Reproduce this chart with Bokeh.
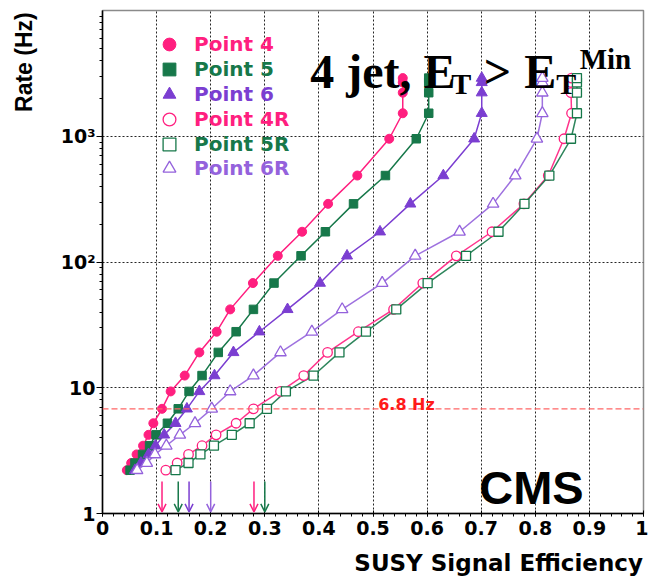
import math
from bokeh.plotting import figure
from bokeh.models import (Label, Span, Arrow, OpenHead, Legend, LegendItem,
                          FixedTicker)
from bokeh.embed import file_html
from bokeh.resources import INLINE

# ---------------- data ----------------
rate = [2.21, 2.52, 2.95, 3.46, 4.22, 5.22, 6.8, 9.35, 12.5, 19.1, 27.9,
        42, 68, 112, 174, 290, 487, 955, 1524, 2220, 2680, 2900]

eff_p4 = [0.045, 0.053, 0.063, 0.075, 0.085, 0.094, 0.110, 0.126, 0.152, 0.179, 0.211,
          0.236, 0.278, 0.324, 0.369, 0.417, 0.471, 0.530, 0.555, 0.555, 0.555, 0.555]
eff_p5 = [0.051, 0.060, 0.074, 0.087, 0.099, 0.120, 0.140, 0.160, 0.184, 0.214, 0.247,
          0.279, 0.317, 0.367, 0.412, 0.464, 0.523, 0.580, 0.603, 0.603, 0.603, 0.603]
eff_p6 = [0.060, 0.071, 0.085, 0.098, 0.114, 0.135, 0.156, 0.179, 0.207, 0.242, 0.290,
          0.342, 0.402, 0.452, 0.513, 0.569, 0.630, 0.687, 0.701, 0.701, 0.701, 0.701]
eff_p4r = [0.117, 0.138, 0.159, 0.184, 0.210, 0.247, 0.279, 0.329, 0.372, 0.416, 0.473,
           0.538, 0.592, 0.654, 0.720, 0.779, 0.824, 0.853, 0.867, 0.866, 0.866, 0.867]
eff_p5r = [0.135, 0.159, 0.181, 0.206, 0.239, 0.272, 0.304, 0.339, 0.390, 0.438, 0.487,
           0.543, 0.601, 0.672, 0.732, 0.780, 0.826, 0.866, 0.877, 0.877, 0.877, 0.877]
eff_p6r = [0.064, 0.082, 0.097, 0.118, 0.143, 0.171, 0.202, 0.236, 0.279, 0.329, 0.387,
           0.443, 0.517, 0.578, 0.660, 0.722, 0.763, 0.803, 0.813, 0.813, 0.813, 0.813]

series_names = ["Point 4", "Point 5", "Point 6", "Point 4R", "Point 5R", "Point 6R"]

# efficiencies at the 6.8 Hz working point (arrows)
arrow_eff = [0.11, 0.14, 0.16, 0.20, 0.28, 0.30]
arrow_series = ["Point 4", "Point 5", "Point 6", "Point 6R", "Point 4R", "Point 5R"]

rate_limit = 6.8
rate_limit_label = "6.8 Hz"

x_ticks = [0, 0.1, 0.2, 0.3, 0.4, 0.5, 0.6, 0.7, 0.8, 0.9, 1.0]
x_tick_labels = ["0", "0.1", "0.2", "0.3", "0.4", "0.5", "0.6", "0.7", "0.8", "0.9", "1"]
y_ticks = [1, 10, 100, 1000]
y_tick_labels = ["1", "10", "10²", "10³"]

x_title = "SUSY Signal Efficiency"
y_title = "Rate (Hz)"

# ---------------- styles ----------------
PINK = "#FF1F7F"
GREEN = "#17784A"
PURPLE = "#7B3ED1"
PURPLE_L = "#9462DC"
styles = {
    "Point 4":  dict(color=PINK,   marker="circle",   filled=True,  size=9),
    "Point 5":  dict(color=GREEN,  marker="square",   filled=True,  size=8.5),
    "Point 6":  dict(color=PURPLE, marker="triangle", filled=True,  size=11),
    "Point 4R": dict(color=PINK,   marker="circle",   filled=False, size=9.5),
    "Point 5R": dict(color=GREEN,  marker="square",   filled=False, size=9),
    "Point 6R": dict(color=PURPLE_L, marker="triangle", filled=False, size=11.5),
}
effs = dict(zip(series_names, [eff_p4, eff_p5, eff_p6, eff_p4r, eff_p5r, eff_p6r]))

SANS = "DejaVu Sans"

p = figure(width=648, height=577, x_range=(0, 1), y_range=(1, 10000),
           y_axis_type="log", output_backend="svg", toolbar_location=None,
           min_border_left=102, min_border_right=5, min_border_top=10,
           min_border_bottom=64)
p.background_fill_color = "white"
p.border_fill_color = "white"
p.outline_line_color = "#8a8a8a"
p.outline_line_width = 1.5

# axes
xa = p.xaxis[0]
xa.ticker = FixedTicker(ticks=x_ticks, minor_ticks=[i * 0.02 for i in range(51)])
xa.major_label_overrides = dict(zip(x_ticks, x_tick_labels))
ya = p.yaxis[0]
ya.ticker = FixedTicker(ticks=y_ticks,
                        minor_ticks=[m * 10 ** d for d in range(4) for m in range(2, 10)])
ya.major_label_overrides = dict(zip(y_ticks, y_tick_labels))
for ax in (xa, ya):
    ax.axis_line_color = "black"
    ax.axis_line_width = 1.5
    ax.major_tick_line_color = "black"
    ax.minor_tick_line_color = "black"
    ax.major_label_text_font = SANS
    ax.major_label_text_font_style = "bold"
    ax.major_label_text_font_size = "19px"
    ax.major_label_text_color = "black"
xa.major_tick_in = 3
xa.major_tick_out = 3
xa.minor_tick_in = 0
xa.minor_tick_out = 3
xa.major_label_standoff = 4
ya.major_tick_in = 0
ya.major_tick_out = 6
ya.minor_tick_in = 0
ya.minor_tick_out = 3
ya.major_label_standoff = 1

# axis titles as labels placed in the side panels (not clipped there)
p.add_layout(Label(x=0.999, y=0.4013, text=x_title, text_font=SANS,
                   text_font_style="bold", text_font_size="23px", text_color="black",
                   text_align="right", text_baseline="middle"), "below")
p.add_layout(Label(x=-0.1447, y=1560, text=y_title, text_font="Liberation Sans",
                   text_font_style="bold", text_font_size="23px", text_color="black",
                   text_align="left", text_baseline="middle",
                   angle=math.pi / 2), "left")

for g in (p.xgrid[0], p.ygrid[0]):
    g.grid_line_color = "black"
    g.grid_line_dash = "2 2"
    g.grid_line_alpha = 0.85
    g.grid_line_width = 1

# 6.8 Hz line
p.add_layout(Span(location=rate_limit, dimension="width", line_color="#FF6666",
                  line_dash="6 3", line_width=1.3))
p.add_layout(Label(x=0.5096, y=7.37, text=rate_limit_label, text_font=SANS,
                   text_font_style="bold", text_font_size="16px",
                   text_color="#FF1A1A", text_baseline="alphabetic"))

# lines
for name in series_names:
    st = styles[name]
    p.line(effs[name], rate, line_color=st["color"], line_width=1.5,
           line_alpha=1.0 if st["filled"] else 0.9)

# markers
marker_renderers = {}
for name in series_names:
    st = styles[name]
    if st["filled"]:
        r = p.scatter(effs[name], rate, marker=st["marker"], size=st["size"],
                      fill_color=st["color"], line_color=st["color"], line_width=1)
    else:
        r = p.scatter(effs[name], rate, marker=st["marker"], size=st["size"],
                      fill_color="white", fill_alpha=1.0, line_color=st["color"],
                      line_width=1.3)
    marker_renderers[name] = r

# arrows at the 6.8 Hz efficiencies
for xv, name in zip(arrow_eff, arrow_series):
    c = styles[name]["color"]
    p.add_layout(Arrow(end=OpenHead(size=8, line_color=c, line_width=1.5),
                       x_start=xv, y_start=1.8, x_end=xv, y_end=1.03,
                       line_color=c, line_width=1.5))

# legends, one per entry so each label gets its own colour
for i, name in enumerate(series_names):
    st = styles[name]
    yc = 44.3 + 24.8 * i
    lg = Legend(items=[LegendItem(label=name, renderers=[marker_renderers[name]])],
                location=(51, 513 - yc - 16), orientation="vertical",
                glyph_width=32, glyph_height=32, label_standoff=9,
                label_text_font=SANS, label_text_font_style="bold",
                label_text_font_size="20px", label_text_color=st["color"],
                padding=0, margin=0, spacing=0, border_line_alpha=0,
                background_fill_alpha=0, label_height=20)
    p.add_layout(lg)

# title: 4 jet, E_T > E_T^Min
SERIF = "Liberation Serif"
def tl(x, y, t, size):
    p.add_layout(Label(x=x, y=y, text=t, text_font=SERIF, text_font_style="bold",
                       text_font_size=size, text_color="black",
                       text_baseline="alphabetic", text_align="left"))
tl(0.384, 3268, "4 jet, E", "48px")
tl(0.6445, 2624, "T", "30px")
tl(0.7046, 3268, ">", "48px")
tl(0.7795, 3268, "E", "48px")
tl(0.8386, 2624, "T", "30px")
tl(0.882, 4121, "Min", "29px")

# CMS
p.add_layout(Label(x=0.6963, y=1.6125, text="CMS", text_font="Liberation Sans",
                   text_font_style="bold", text_font_size="47px", text_color="black",
                   text_baseline="alphabetic"))

open("out.html", "w").write(file_html(p, INLINE))
